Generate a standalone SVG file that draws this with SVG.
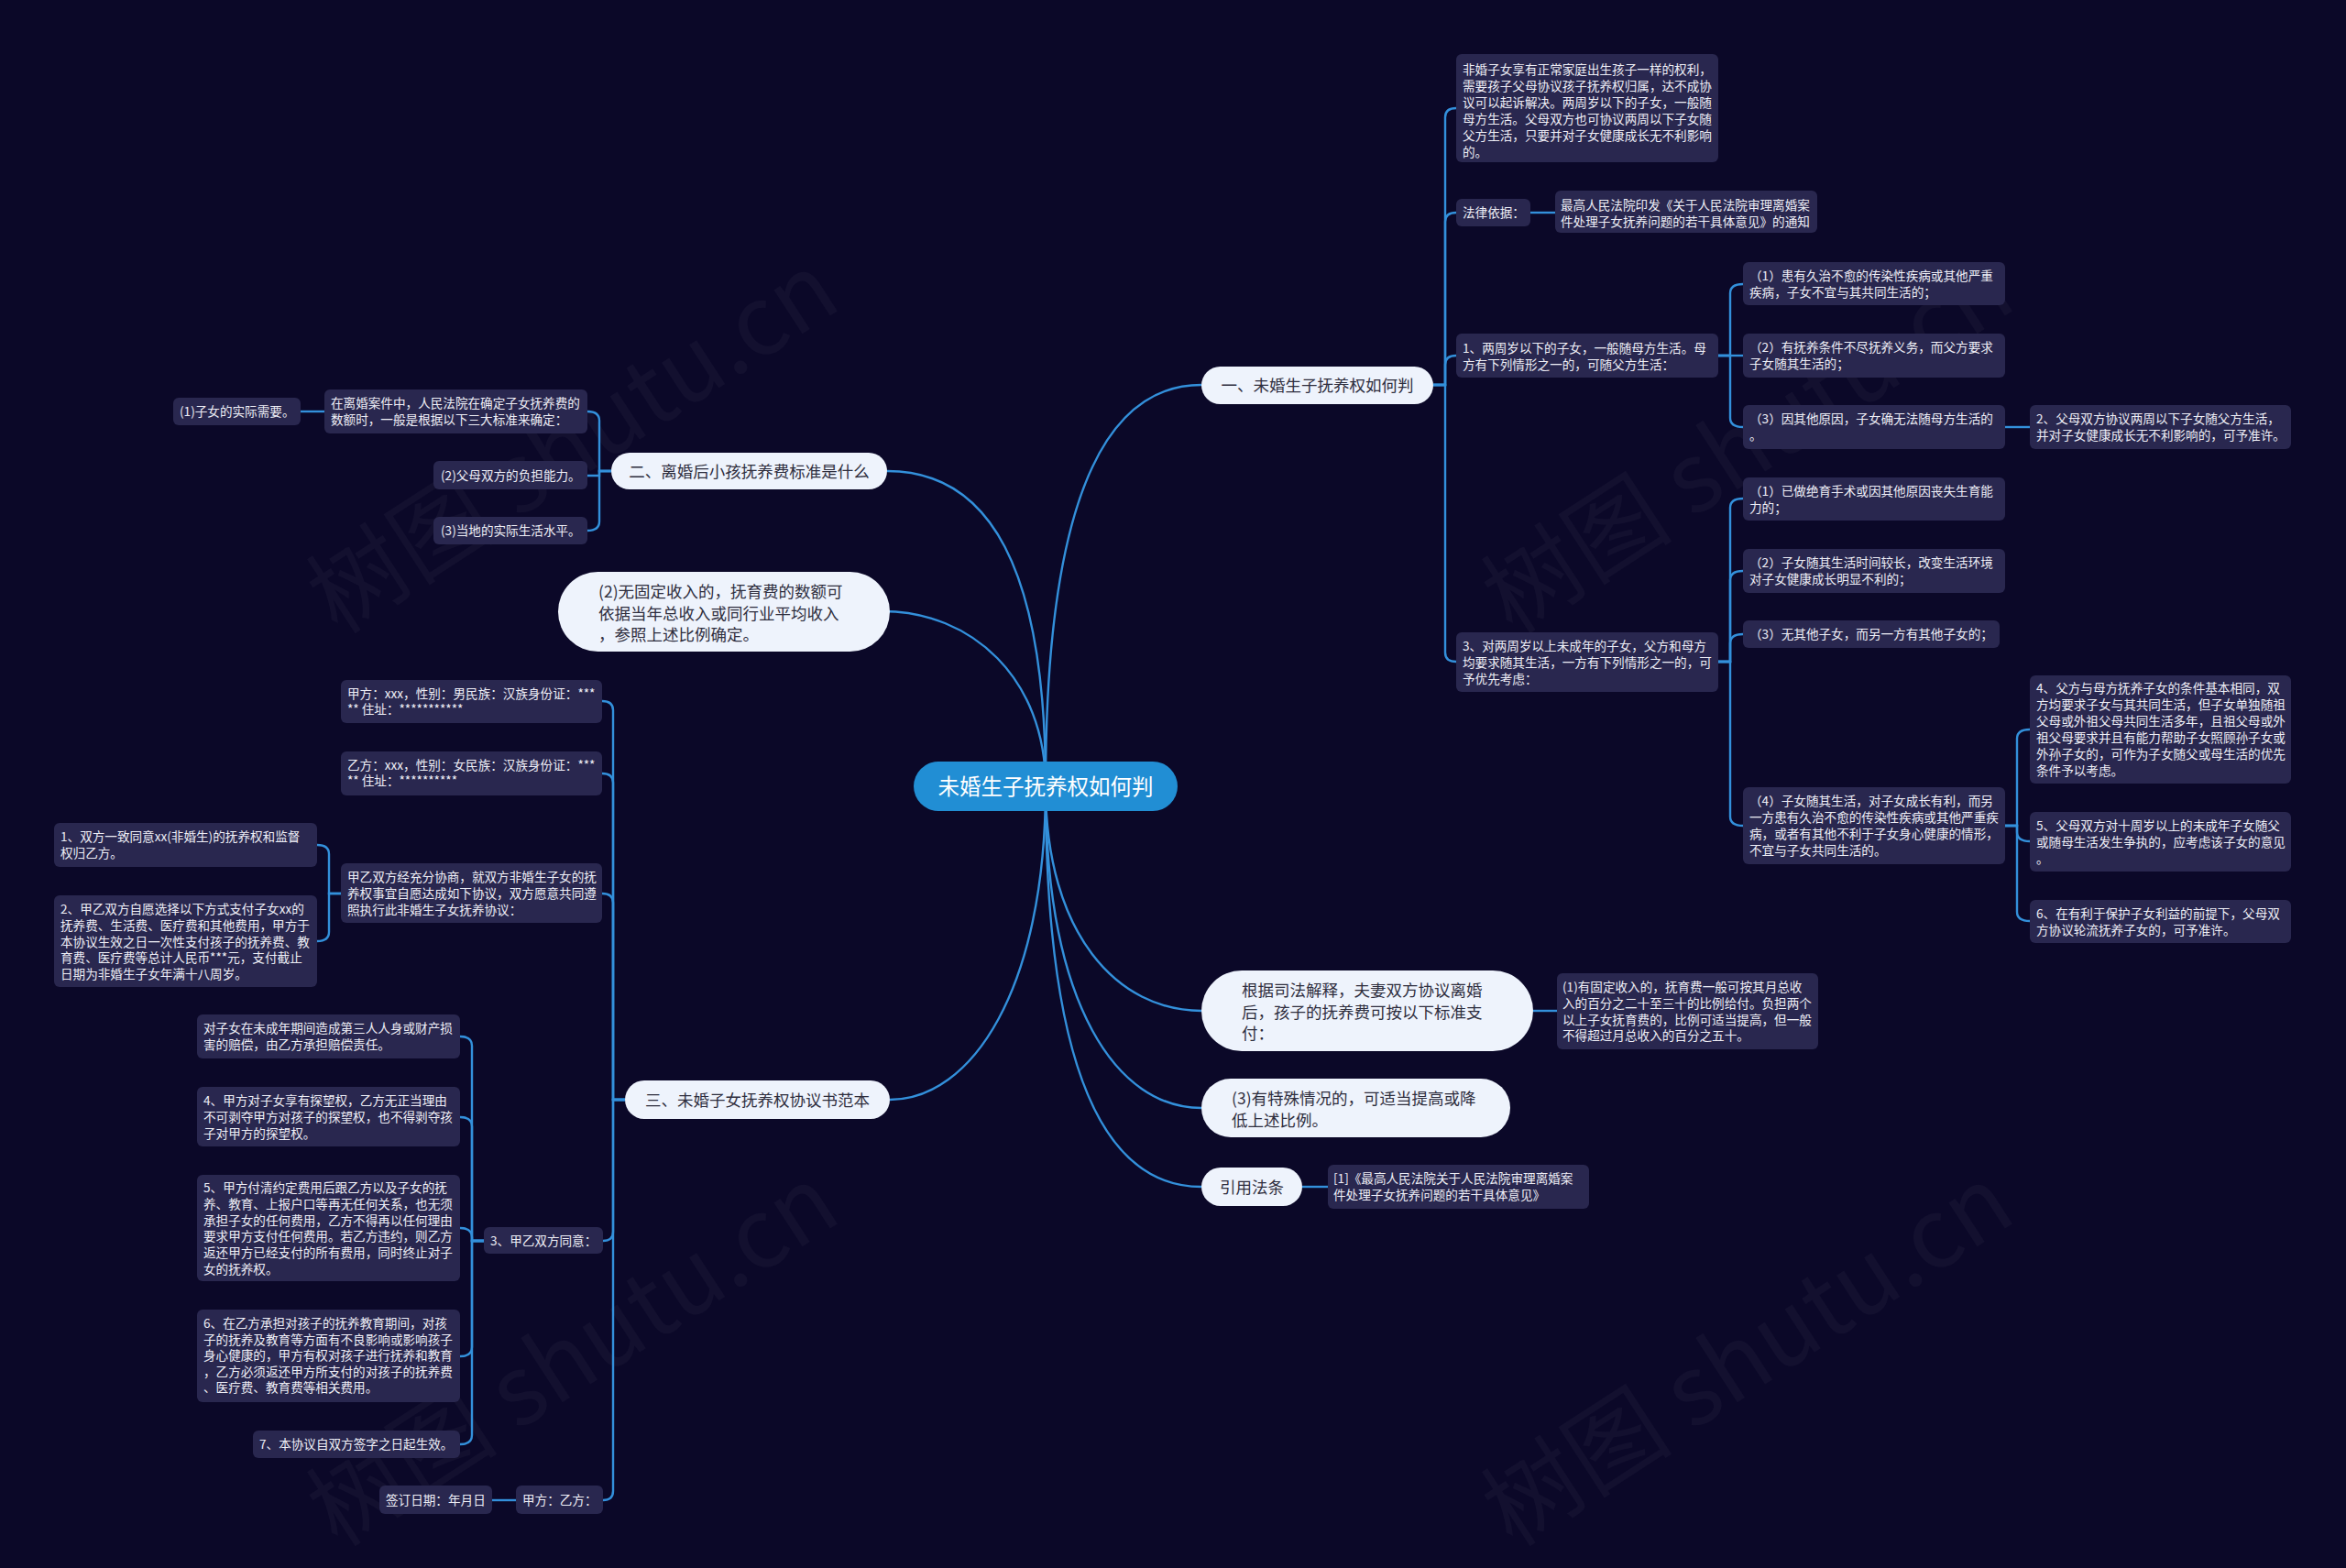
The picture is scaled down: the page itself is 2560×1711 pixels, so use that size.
<svg xmlns="http://www.w3.org/2000/svg" width="2560" height="1711" viewBox="0 0 2560 1711">
<style>
.t{font-family:"Noto Sans CJK SC","Noto Sans",sans-serif;font-size:13.6px;fill:#eeeef6}
.pt{font-family:"Noto Sans CJK SC","Noto Sans",sans-serif;font-size:17.5px;fill:#2e2e3e}
.box{fill:#29274f}
.pill{fill:#eef3fc}
.conn{fill:none;stroke:#3390db;stroke-width:2.4}
.wm{font-family:"Noto Sans CJK SC","Noto Sans",sans-serif;font-size:105px;fill:#ffffff;fill-opacity:0.035;text-anchor:middle}
</style>
<rect x="0" y="0" width="2560" height="1711" fill="#0b0828"/>
<g id="watermarks">
<text class="wm" transform="translate(645,514) rotate(-33)">树图 shutu.cn</text>
<text class="wm" transform="translate(1927,514) rotate(-33)">树图 shutu.cn</text>
<text class="wm" transform="translate(645,1510) rotate(-33)">树图 shutu.cn</text>
<text class="wm" transform="translate(1927,1510) rotate(-33)">树图 shutu.cn</text>
</g>
<g id="connectors">
<path class="conn" d="M1141 858 C1141 560 1200 420 1311 420"/>
<path class="conn" d="M1141 858 C1141 620 1080 514 968 514"/>
<path class="conn" d="M1141 858 C1141 740 1060 667 963 667"/>
<path class="conn" d="M1141 858 C1141 1080 1060 1200 971 1200"/>
<path class="conn" d="M1141 858 C1141 1020 1220 1103 1311 1103"/>
<path class="conn" d="M1141 858 C1141 1100 1220 1209 1311 1209"/>
<path class="conn" d="M1141 858 C1141 1180 1210 1295 1311 1295"/>
<path class="conn" d="M1564 420 H1577 V128 Q1577 118 1589 118"/>
<path class="conn" d="M1564 420 H1577 V242 Q1577 232 1589 232"/>
<path class="conn" d="M1564 420 H1577 V398 Q1577 388 1589 388"/>
<path class="conn" d="M1564 420 H1577 V712 Q1577 722 1589 722"/>
<path class="conn" d="M1670 232 H1697"/>
<path class="conn" d="M1875 388 H1888 V320 Q1888 310 1902 310"/>
<path class="conn" d="M1875 388 H1902"/>
<path class="conn" d="M1875 388 H1888 V456 Q1888 466 1902 466"/>
<path class="conn" d="M2188 466 H2215"/>
<path class="conn" d="M1875 722 H1888 V554 Q1888 544 1902 544"/>
<path class="conn" d="M1875 722 H1888 V633 Q1888 623 1902 623"/>
<path class="conn" d="M1875 722 H1888 V702 Q1888 692 1902 692"/>
<path class="conn" d="M1875 722 H1888 V891 Q1888 901 1902 901"/>
<path class="conn" d="M2188 901 H2201 V806 Q2201 796 2215 796"/>
<path class="conn" d="M2188 901 H2201 V908 Q2201 918 2215 918"/>
<path class="conn" d="M2188 901 H2201 V995 Q2201 1005 2215 1005"/>
<path class="conn" d="M1673 1103 H1699"/>
<path class="conn" d="M1421 1295 H1449"/>
<path class="conn" d="M667 514 H654 V459 Q654 449 641 449"/>
<path class="conn" d="M667 514 H654 V519 H641"/>
<path class="conn" d="M667 514 H654 V569 Q654 579 641 579"/>
<path class="conn" d="M354 449 H328"/>
<path class="conn" d="M682 1200 H669 V775 Q669 765 657 765"/>
<path class="conn" d="M682 1200 H669 V854 Q669 844 657 844"/>
<path class="conn" d="M682 1200 H669 V985 Q669 975 657 975"/>
<path class="conn" d="M682 1200 H669 V1344 Q669 1354 658 1354"/>
<path class="conn" d="M682 1200 H669 V1627 Q669 1637 658 1637"/>
<path class="conn" d="M372 975 H359 V932 Q359 922 346 922"/>
<path class="conn" d="M372 975 H359 V1017 Q359 1027 346 1027"/>
<path class="conn" d="M528 1354 H515 V1141 Q515 1131 502 1131"/>
<path class="conn" d="M528 1354 H515 V1229 Q515 1219 502 1219"/>
<path class="conn" d="M528 1354 H515 V1350 Q515 1340 502 1340"/>
<path class="conn" d="M528 1354 H515 V1470 Q515 1480 502 1480"/>
<path class="conn" d="M528 1354 H515 V1566 Q515 1576 502 1576"/>
<path class="conn" d="M563 1637 H537"/>
</g>
<g id="root">
<rect x="997" y="831" width="288" height="54" rx="27" fill="#218ed4"/>
<text x="1141" y="867" text-anchor="middle" style="font-family:'Noto Sans CJK SC',sans-serif;font-size:23.5px;fill:#ffffff">未婚生子抚养权如何判</text>
</g>
<g id="n1">
<rect class="pill" x="1311" y="400" width="253" height="41" rx="20.5"/>
<text class="pt" x="1437.5" y="427" text-anchor="middle">一、未婚生子抚养权如何判</text>
</g>
<g id="n1a">
<rect class="box" x="1589" y="59" width="286" height="118" rx="6"/>
<text class="t" x="1596" y="81"><tspan x="1596">非婚子女享有正常家庭出生孩子一样的权利，</tspan><tspan x="1596" dy="17.9">需要孩子父母协议孩子抚养权归属，达不成协</tspan><tspan x="1596" dy="17.9">议可以起诉解决。两周岁以下的子女，一般随</tspan><tspan x="1596" dy="17.9">母方生活。父母双方也可协议两周以下子女随</tspan><tspan x="1596" dy="17.9">父方生活，只要并对子女健康成长无不利影响</tspan><tspan x="1596" dy="17.9">的。</tspan></text>
</g>
<g id="n1b">
<rect class="box" x="1589" y="217" width="81" height="30" rx="6"/>
<text class="t" x="1596" y="237">法律依据：</text>
</g>
<g id="n1b1">
<rect class="box" x="1697" y="208" width="286" height="46" rx="6"/>
<text class="t" x="1703" y="229"><tspan x="1703">最高人民法院印发《关于人民法院审理离婚案</tspan><tspan x="1703" dy="18">件处理子女抚养问题的若干具体意见》的通知</tspan></text>
</g>
<g id="n1c">
<rect class="box" x="1589" y="364" width="286" height="48" rx="6"/>
<text class="t" x="1596" y="385"><tspan x="1596">1、两周岁以下的子女，一般随母方生活。母</tspan><tspan x="1596" dy="18">方有下列情形之一的，可随父方生活：</tspan></text>
</g>
<g id="n1c1">
<rect class="box" x="1902" y="286" width="286" height="47" rx="6"/>
<text class="t" x="1909" y="306"><tspan x="1909">（1）患有久治不愈的传染性疾病或其他严重</tspan><tspan x="1909" dy="18">疾病，子女不宜与其共同生活的；</tspan></text>
</g>
<g id="n1c2">
<rect class="box" x="1902" y="364" width="286" height="48" rx="6"/>
<text class="t" x="1909" y="384"><tspan x="1909">（2）有抚养条件不尽抚养义务，而父方要求</tspan><tspan x="1909" dy="18">子女随其生活的；</tspan></text>
</g>
<g id="n1c3">
<rect class="box" x="1902" y="442" width="286" height="48" rx="6"/>
<text class="t" x="1909" y="462"><tspan x="1909">（3）因其他原因，子女确无法随母方生活的</tspan><tspan x="1909" dy="18">。</tspan></text>
</g>
<g id="n1c3a">
<rect class="box" x="2215" y="442" width="285" height="48" rx="6"/>
<text class="t" x="2222" y="462"><tspan x="2222">2、父母双方协议两周以下子女随父方生活，</tspan><tspan x="2222" dy="18">并对子女健康成长无不利影响的，可予准许。</tspan></text>
</g>
<g id="n1d">
<rect class="box" x="1589" y="690" width="286" height="65" rx="6"/>
<text class="t" x="1596" y="710"><tspan x="1596">3、对两周岁以上未成年的子女，父方和母方</tspan><tspan x="1596" dy="18">均要求随其生活，一方有下列情形之一的，可</tspan><tspan x="1596" dy="18">予优先考虑：</tspan></text>
</g>
<g id="n1d1">
<rect class="box" x="1902" y="521" width="286" height="47" rx="6"/>
<text class="t" x="1909" y="541"><tspan x="1909">（1）已做绝育手术或因其他原因丧失生育能</tspan><tspan x="1909" dy="18">力的；</tspan></text>
</g>
<g id="n1d2">
<rect class="box" x="1902" y="599" width="286" height="48" rx="6"/>
<text class="t" x="1909" y="619"><tspan x="1909">（2）子女随其生活时间较长，改变生活环境</tspan><tspan x="1909" dy="18">对子女健康成长明显不利的；</tspan></text>
</g>
<g id="n1d3">
<rect class="box" x="1902" y="677" width="280" height="30" rx="6"/>
<text class="t" x="1909" y="697">（3）无其他子女，而另一方有其他子女的；</text>
</g>
<g id="n1d4">
<rect class="box" x="1902" y="859" width="286" height="84" rx="6"/>
<text class="t" x="1909" y="879"><tspan x="1909">（4）子女随其生活，对子女成长有利，而另</tspan><tspan x="1909" dy="18">一方患有久治不愈的传染性疾病或其他严重疾</tspan><tspan x="1909" dy="18">病，或者有其他不利于子女身心健康的情形，</tspan><tspan x="1909" dy="18">不宜与子女共同生活的。</tspan></text>
</g>
<g id="n1d4a">
<rect class="box" x="2215" y="737" width="285" height="118" rx="6"/>
<text class="t" x="2222" y="756"><tspan x="2222">4、父方与母方抚养子女的条件基本相同，双</tspan><tspan x="2222" dy="17.9">方均要求子女与其共同生活，但子女单独随祖</tspan><tspan x="2222" dy="17.9">父母或外祖父母共同生活多年，且祖父母或外</tspan><tspan x="2222" dy="17.9">祖父母要求并且有能力帮助子女照顾孙子女或</tspan><tspan x="2222" dy="17.9">外孙子女的，可作为子女随父或母生活的优先</tspan><tspan x="2222" dy="17.9">条件予以考虑。</tspan></text>
</g>
<g id="n1d4b">
<rect class="box" x="2215" y="886" width="285" height="65" rx="6"/>
<text class="t" x="2222" y="906"><tspan x="2222">5、父母双方对十周岁以上的未成年子女随父</tspan><tspan x="2222" dy="18">或随母生活发生争执的，应考虑该子女的意见</tspan><tspan x="2222" dy="18">。</tspan></text>
</g>
<g id="n1d4c">
<rect class="box" x="2215" y="982" width="285" height="47" rx="6"/>
<text class="t" x="2222" y="1002"><tspan x="2222">6、在有利于保护子女利益的前提下，父母双</tspan><tspan x="2222" dy="18">方协议轮流抚养子女的，可予准许。</tspan></text>
</g>
<g id="n2">
<rect class="pill" x="1311" y="1059" width="362" height="88" rx="44"/>
<text class="pt" x="1355" y="1087"><tspan x="1355">根据司法解释，夫妻双方协议离婚</tspan><tspan x="1355" dy="23.5">后，孩子的抚养费可按以下标准支</tspan><tspan x="1355" dy="23.5">付：</tspan></text>
</g>
<g id="n2a">
<rect class="box" x="1699" y="1062" width="285" height="83" rx="6"/>
<text class="t" x="1705" y="1082"><tspan x="1705">(1)有固定收入的，抚育费一般可按其月总收</tspan><tspan x="1705" dy="17.8">入的百分之二十至三十的比例给付。负担两个</tspan><tspan x="1705" dy="17.8">以上子女抚育费的，比例可适当提高，但一般</tspan><tspan x="1705" dy="17.8">不得超过月总收入的百分之五十。</tspan></text>
</g>
<g id="n3">
<rect class="pill" x="1311" y="1177" width="337" height="64" rx="32"/>
<text class="pt" x="1344" y="1205"><tspan x="1344">(3)有特殊情况的，可适当提高或降</tspan><tspan x="1344" dy="24">低上述比例。</tspan></text>
</g>
<g id="n4">
<rect class="pill" x="1311" y="1274" width="110" height="42" rx="21"/>
<text class="pt" x="1366" y="1302" text-anchor="middle">引用法条</text>
</g>
<g id="n4a">
<rect class="box" x="1449" y="1271" width="285" height="48" rx="6"/>
<text class="t" x="1455" y="1291"><tspan x="1455">[1]《最高人民法院关于人民法院审理离婚案</tspan><tspan x="1455" dy="18">件处理子女抚养问题的若干具体意见》</tspan></text>
</g>
<g id="n5">
<rect class="pill" x="667" y="494" width="301" height="40" rx="20"/>
<text class="pt" x="817.5" y="520.5" text-anchor="middle">二、离婚后小孩抚养费标准是什么</text>
</g>
<g id="n5a">
<rect class="box" x="354" y="425" width="287" height="48" rx="6"/>
<text class="t" x="361" y="445"><tspan x="361">在离婚案件中，人民法院在确定子女抚养费的</tspan><tspan x="361" dy="18">数额时，一般是根据以下三大标准来确定：</tspan></text>
</g>
<g id="n5a1">
<rect class="box" x="189" y="434" width="139" height="30" rx="6"/>
<text class="t" x="196" y="454">(1)子女的实际需要。</text>
</g>
<g id="n5b">
<rect class="box" x="473" y="503" width="168" height="31" rx="6"/>
<text class="t" x="481" y="524">(2)父母双方的负担能力。</text>
</g>
<g id="n5c">
<rect class="box" x="473" y="564" width="168" height="30" rx="6"/>
<text class="t" x="481" y="584">(3)当地的实际生活水平。</text>
</g>
<g id="n6">
<rect class="pill" x="609" y="624" width="362" height="87" rx="43.5"/>
<text class="pt" x="653" y="652"><tspan x="653">(2)无固定收入的，抚育费的数额可</tspan><tspan x="653" dy="23.5">依据当年总收入或同行业平均收入</tspan><tspan x="653" dy="23.5">，参照上述比例确定。</tspan></text>
</g>
<g id="n7">
<rect class="pill" x="682" y="1179" width="289" height="42" rx="21"/>
<text class="pt" x="826.5" y="1206.5" text-anchor="middle">三、未婚子女抚养权协议书范本</text>
</g>
<g id="n7a">
<rect class="box" x="372" y="742" width="285" height="47" rx="6"/>
<text class="t" x="379" y="762"><tspan x="379">甲方：xxx，性别：男民族：汉族身份证：***</tspan><tspan x="379" dy="17">** 住址：***********</tspan></text>
</g>
<g id="n7b">
<rect class="box" x="372" y="820" width="285" height="48" rx="6"/>
<text class="t" x="379" y="840"><tspan x="379">乙方：xxx，性别：女民族：汉族身份证：***</tspan><tspan x="379" dy="17">** 住址：**********</tspan></text>
</g>
<g id="n7c">
<rect class="box" x="372" y="942" width="285" height="65" rx="6"/>
<text class="t" x="379" y="962"><tspan x="379">甲乙双方经充分协商，就双方非婚生子女的抚</tspan><tspan x="379" dy="18">养权事宜自愿达成如下协议，双方愿意共同遵</tspan><tspan x="379" dy="18">照执行此非婚生子女抚养协议：</tspan></text>
</g>
<g id="n7c1">
<rect class="box" x="59" y="898" width="287" height="48" rx="6"/>
<text class="t" x="66" y="918"><tspan x="66">1、双方一致同意xx(非婚生)的抚养权和监督</tspan><tspan x="66" dy="18">权归乙方。</tspan></text>
</g>
<g id="n7c2">
<rect class="box" x="59" y="977" width="287" height="100" rx="6"/>
<text class="t" x="66" y="997"><tspan x="66">2、甲乙双方自愿选择以下方式支付子女xx的</tspan><tspan x="66" dy="17.8">抚养费、生活费、医疗费和其他费用，甲方于</tspan><tspan x="66" dy="17.8">本协议生效之日一次性支付孩子的抚养费、教</tspan><tspan x="66" dy="17.8">育费、医疗费等总计人民币***元，支付截止</tspan><tspan x="66" dy="17.8">日期为非婚生子女年满十八周岁。</tspan></text>
</g>
<g id="n7d">
<rect class="box" x="528" y="1339" width="130" height="29" rx="6"/>
<text class="t" x="535" y="1359">3、甲乙双方同意：</text>
</g>
<g id="n7d1">
<rect class="box" x="215" y="1107" width="287" height="48" rx="6"/>
<text class="t" x="222" y="1127"><tspan x="222">对子女在未成年期间造成第三人人身或财产损</tspan><tspan x="222" dy="18">害的赔偿，由乙方承担赔偿责任。</tspan></text>
</g>
<g id="n7d2">
<rect class="box" x="215" y="1186" width="287" height="65" rx="6"/>
<text class="t" x="222" y="1206"><tspan x="222">4、甲方对子女享有探望权，乙方无正当理由</tspan><tspan x="222" dy="18">不可剥夺甲方对孩子的探望权，也不得剥夺孩</tspan><tspan x="222" dy="18">子对甲方的探望权。</tspan></text>
</g>
<g id="n7d3">
<rect class="box" x="215" y="1282" width="287" height="116" rx="6"/>
<text class="t" x="222" y="1301"><tspan x="222">5、甲方付清约定费用后跟乙方以及子女的抚</tspan><tspan x="222" dy="17.8">养、教育、上报户口等再无任何关系，也无须</tspan><tspan x="222" dy="17.8">承担子女的任何费用，乙方不得再以任何理由</tspan><tspan x="222" dy="17.8">要求甲方支付任何费用。若乙方违约，则乙方</tspan><tspan x="222" dy="17.8">返还甲方已经支付的所有费用，同时终止对子</tspan><tspan x="222" dy="17.8">女的抚养权。</tspan></text>
</g>
<g id="n7d4">
<rect class="box" x="215" y="1429" width="287" height="101" rx="6"/>
<text class="t" x="222" y="1449"><tspan x="222">6、在乙方承担对孩子的抚养教育期间，对孩</tspan><tspan x="222" dy="17.6">子的抚养及教育等方面有不良影响或影响孩子</tspan><tspan x="222" dy="17.6">身心健康的，甲方有权对孩子进行抚养和教育</tspan><tspan x="222" dy="17.6">，乙方必须返还甲方所支付的对孩子的抚养费</tspan><tspan x="222" dy="17.6">、医疗费、教育费等相关费用。</tspan></text>
</g>
<g id="n7d5">
<rect class="box" x="276" y="1561" width="226" height="30" rx="6"/>
<text class="t" x="283" y="1581">7、本协议自双方签字之日起生效。</text>
</g>
<g id="n7e">
<rect class="box" x="563" y="1621" width="95" height="31" rx="6"/>
<text class="t" x="570" y="1642">甲方：乙方：</text>
</g>
<g id="n7e1">
<rect class="box" x="414" y="1621" width="123" height="31" rx="6"/>
<text class="t" x="421" y="1642">签订日期：年月日</text>
</g>
</svg>
